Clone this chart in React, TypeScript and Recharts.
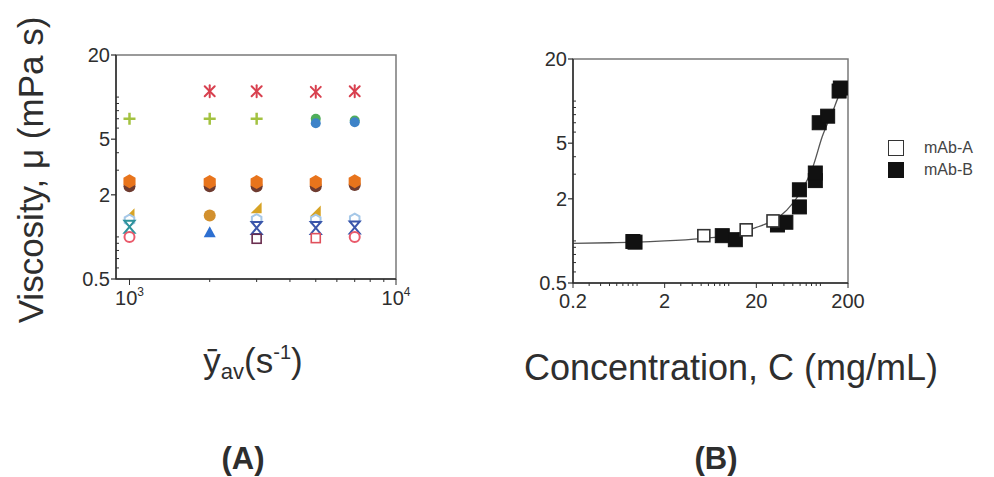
import React from "react";
import { ComposedChart, Scatter, Line, XAxis, YAxis, ReferenceArea } from "recharts";

const FONT = '"Liberation Sans", Arial, Helvetica, sans-serif';
const INK = "#2e2e2e";
const FRAME = "#7a7a7a";

// ── Panel A: viscosity vs average shear rate ──
const rateTicks = [1000, 2000, 3000, 4000, 5000, 6000, 7000, 8000, 9000, 10000];
const rateMajor: Record<number, string> = { 1000: "3", 10000: "4" };
const muTicks = [0.5, 0.6, 0.7, 0.8, 0.9, 1, 2, 3, 4, 5, 6, 7, 8, 9, 10, 20];
const muMajor = [0.5, 2, 5, 20];

const starRate = [2000, 3000, 5000, 7000];
const starMu = [11.0, 11.0, 10.9, 11.0];
const plusRate = [1000, 2000, 3000];
const plusMu = [7.0, 7.0, 7.0];
const greenRate = [5000, 7000];
const greenMu = [7.0, 6.8];
const blueRate = [5000, 7000];
const blueMu = [6.5, 6.6];
const brownRate = [1000, 2000, 3000, 5000, 7000];
const brownMu = [2.3, 2.3, 2.3, 2.3, 2.35];
const orangeRate = [1000, 2000, 3000, 5000, 7000];
const orangeMu = [2.5, 2.47, 2.47, 2.47, 2.5];
const goldTriRate = [1000, 3000, 5000];
const goldTriMu = [1.45, 1.6, 1.52];
const goldDotRate = [2000];
const goldDotMu = [1.42];
const paleHexRate = [1000, 3000, 5000, 7000];
const paleHexMu = [1.32, 1.33, 1.32, 1.34];
const tealTieRate = [1000];
const tealTieMu = [1.18];
const navyTieRate = [3000, 5000, 7000];
const navyTieMu = [1.16, 1.16, 1.17];
const blueTriRate = [2000];
const blueTriMu = [1.08];
const redRingRate = [1000, 7000];
const redRingMu = [1.0, 1.0];
const redBoxRate = [5000];
const redBoxMu = [0.98];
const plumBoxRate = [3000];
const plumBoxMu = [0.97];

// ── Panel B: viscosity vs concentration ──
const concTicks = [0.2, 0.3, 0.4, 0.5, 0.6, 0.7, 0.8, 0.9, 1, 2, 3, 4, 5, 6, 7, 8, 9, 10, 20, 30, 40, 50, 60, 70, 80, 90, 100, 200];
const concMajor = [0.2, 2, 20, 200];

const mabAConc = [5.35, 15.5, 30.4];
const mabAMu = [1.09, 1.2, 1.39];
const mabBConc = [0.9, 0.95, 8.5, 11.8, 34, 42, 59, 59, 88, 88, 97, 120, 160, 165];
const mabBMu = [0.99, 0.98, 1.09, 1.02, 1.3, 1.36, 1.75, 2.32, 2.7, 3.06, 7.0, 7.8, 11.8, 12.4];
const fitConc = [0.2, 0.5, 1, 2, 5, 10, 15, 20, 30, 43, 60, 83, 105, 138, 155, 170];
const fitMu = [0.96, 0.97, 0.98, 1.0, 1.04, 1.09, 1.17, 1.25, 1.39, 1.66, 2.2, 3.4, 5.6, 8.6, 10.5, 11.8];

const pts = (xs: number[], ys: number[]) => xs.map((x, i) => ({ x, y: ys[i] }));

// ── marker shapes ──
type P = { cx?: number; cy?: number };
const star = (c: string) => ({ cx = 0, cy = 0 }: P) => (
  <g stroke={c} strokeWidth={2} strokeLinecap="round">
    <line x1={cx - 5} y1={cy - 5} x2={cx + 5} y2={cy + 5} />
    <line x1={cx - 5} y1={cy + 5} x2={cx + 5} y2={cy - 5} />
    <line x1={cx} y1={cy - 6} x2={cx} y2={cy + 6} />
  </g>
);
const plus = (c: string) => ({ cx = 0, cy = 0 }: P) => (
  <g stroke={c} strokeWidth={2.5}>
    <line x1={cx - 6} y1={cy} x2={cx + 6} y2={cy} />
    <line x1={cx} y1={cy - 6} x2={cx} y2={cy + 6} />
  </g>
);
const dot = (c: string, r = 5) => ({ cx = 0, cy = 0 }: P) => <circle cx={cx} cy={cy} r={r} fill={c} />;
const ring = (c: string) => ({ cx = 0, cy = 0 }: P) => (
  <circle cx={cx} cy={cy} r={5} fill="#fff" stroke={c} strokeWidth={2} />
);
const hexPts = (cx: number, cy: number, r: number) =>
  [0, 1, 2, 3, 4, 5].map((k) => `${cx + r * Math.sin((k * Math.PI) / 3)},${cy - r * Math.cos((k * Math.PI) / 3)}`).join(" ");
const hex = (c: string) => ({ cx = 0, cy = 0 }: P) => <polygon points={hexPts(cx, cy, 7)} fill={c} />;
const hexOpen = (c: string) => ({ cx = 0, cy = 0 }: P) => (
  <polygon points={hexPts(cx, cy, 5.5)} fill="#fff" stroke={c} strokeWidth={2} />
);
const wedge = (c: string) => ({ cx = 0, cy = 0 }: P) => (
  <polygon points={`${cx - 6},${cy + 5} ${cx + 5},${cy + 5} ${cx + 5},${cy - 6}`} fill={c} />
);
const triUp = (c: string) => ({ cx = 0, cy = 0 }: P) => (
  <polygon points={`${cx},${cy - 6} ${cx + 6},${cy + 5} ${cx - 6},${cy + 5}`} fill={c} />
);
const bowtie = (c: string) => ({ cx = 0, cy = 0 }: P) => (
  <polygon
    points={`${cx - 5},${cy - 6} ${cx + 5},${cy - 6} ${cx - 5},${cy + 6} ${cx + 5},${cy + 6}`}
    fill="#fff"
    stroke={c}
    strokeWidth={2}
  />
);
const box = (c: string, s = 10, fill = "#fff") => ({ cx = 0, cy = 0 }: P) => (
  <rect x={cx - s / 2} y={cy - s / 2} width={s} height={s} fill={fill} stroke={c} strokeWidth={fill === "#fff" ? 1.6 : 1} />
);

// ── ticks ──
function RateTick(p: any) {
  const v = p.payload.value;
  const exp = rateMajor[v];
  return (
    <g>
      <line x1={p.x} y1={p.y} x2={p.x} y2={p.y + (exp ? 6 : 3)} stroke={INK} strokeWidth={1} />
      {exp && (
        <text x={p.x} y={p.y + 26} textAnchor="middle" fontSize={20} fill={INK} fontFamily={FONT}>
          10<tspan dy={-9} fontSize={12}>{exp}</tspan>
        </text>
      )}
    </g>
  );
}
function MuTick(p: any) {
  const v = p.payload.value;
  const major = muMajor.includes(v);
  return (
    <g>
      {major ? (
        <line x1={p.x - 5} y1={p.y} x2={p.x} y2={p.y} stroke={INK} strokeWidth={1.2} />
      ) : (
        <line x1={p.x} y1={p.y} x2={p.x + 3} y2={p.y} stroke={INK} strokeWidth={1} />
      )}
      {major && (
        <text x={p.x - 6} y={p.y} textAnchor="end" dominantBaseline="central" fontSize={20} fill={INK} fontFamily={FONT}>
          {v}
        </text>
      )}
    </g>
  );
}
function ConcTick(p: any) {
  const v = p.payload.value;
  const major = concMajor.includes(v);
  return (
    <g>
      <line x1={p.x} y1={p.y} x2={p.x} y2={p.y + (major ? 5 : 3)} stroke={INK} strokeWidth={1} />
      {major && (
        <text x={p.x} y={p.y + 25} textAnchor="middle" fontSize={20} fill={INK} fontFamily={FONT}>
          {v}
        </text>
      )}
    </g>
  );
}

const RED = "#d8404f";
const axisLine = { stroke: INK, strokeWidth: 1.5 };

function PanelA() {
  return (
    <ComposedChart width={430} height={340} margin={{ top: 55, right: 34, bottom: 21, left: 56 }}>
      <XAxis
        dataKey="x"
        type="number"
        scale="log"
        domain={[890, 10000]}
        allowDataOverflow
        ticks={rateTicks}
        interval={0}
        height={40}
        tickSize={0}
        tickMargin={0}
        tickLine={false}
        axisLine={axisLine}
        tick={(p: any) => <RateTick {...p} />}
      />
      <YAxis
        dataKey="y"
        type="number"
        scale="log"
        domain={[0.5, 20]}
        allowDataOverflow
        ticks={muTicks}
        interval={0}
        width={60}
        tickSize={0}
        tickMargin={0}
        tickLine={false}
        axisLine={axisLine}
        tick={(p: any) => <MuTick {...p} />}
      />
      <ReferenceArea x1={890} x2={10000} y1={0.5} y2={20} fill="none" stroke={FRAME} strokeWidth={1.5} />
      <Scatter data={pts(starRate, starMu)} shape={star(RED)} isAnimationActive={false} />
      <Scatter data={pts(plusRate, plusMu)} shape={plus("#a3c241")} isAnimationActive={false} />
      <Scatter data={pts(greenRate, greenMu)} shape={dot("#4fae5a")} isAnimationActive={false} />
      <Scatter data={pts(blueRate, blueMu)} shape={dot("#3d83c8")} isAnimationActive={false} />
      <Scatter data={pts(brownRate, brownMu)} shape={dot("#6e3b30", 6)} isAnimationActive={false} />
      <Scatter data={pts(orangeRate, orangeMu)} shape={hex("#e8741c")} isAnimationActive={false} />
      <Scatter data={pts(goldTriRate, goldTriMu)} shape={wedge("#d7a325")} isAnimationActive={false} />
      <Scatter data={pts(goldDotRate, goldDotMu)} shape={dot("#d2902e", 6)} isAnimationActive={false} />
      <Scatter data={pts(paleHexRate, paleHexMu)} shape={hexOpen("#a6c8e8")} isAnimationActive={false} />
      <Scatter data={pts(tealTieRate, tealTieMu)} shape={bowtie("#2f939c")} isAnimationActive={false} />
      <Scatter data={pts(navyTieRate, navyTieMu)} shape={bowtie("#3b56aa")} isAnimationActive={false} />
      <Scatter data={pts(blueTriRate, blueTriMu)} shape={triUp("#2d6fd1")} isAnimationActive={false} />
      <Scatter data={pts(redRingRate, redRingMu)} shape={ring("#ea5a6b")} isAnimationActive={false} />
      <Scatter data={pts(redBoxRate, redBoxMu)} shape={box("#e0505c", 9)} isAnimationActive={false} />
      <Scatter data={pts(plumBoxRate, plumBoxMu)} shape={box("#6a2e4f", 9)} isAnimationActive={false} />
    </ComposedChart>
  );
}

function PanelB() {
  return (
    <ComposedChart width={500} height={340} margin={{ top: 59, right: 132, bottom: 17, left: 33 }}>
      <XAxis
        dataKey="x"
        type="number"
        scale="log"
        domain={[0.2, 200]}
        allowDataOverflow
        ticks={concTicks}
        interval={0}
        height={40}
        tickSize={0}
        tickMargin={0}
        tickLine={false}
        axisLine={axisLine}
        tick={(p: any) => <ConcTick {...p} />}
      />
      <YAxis
        dataKey="y"
        type="number"
        scale="log"
        domain={[0.5, 20]}
        allowDataOverflow
        ticks={muTicks}
        interval={0}
        width={60}
        tickSize={0}
        tickMargin={0}
        tickLine={false}
        axisLine={axisLine}
        tick={(p: any) => <MuTick {...p} />}
      />
      <ReferenceArea x1={0.2} x2={200} y1={0.5} y2={20} fill="none" stroke={FRAME} strokeWidth={1.5} />
      <Line
        data={pts(fitConc, fitMu)}
        dataKey="y"
        type="monotone"
        stroke="#555"
        strokeWidth={1.3}
        dot={false}
        isAnimationActive={false}
      />
      <Scatter data={pts(mabBConc, mabBMu)} shape={box("#111", 14, "#111")} isAnimationActive={false} />
      <Scatter data={pts(mabAConc, mabAMu)} shape={box("#333", 12)} isAnimationActive={false} />
    </ComposedChart>
  );
}

const abs = (left: number, top: number, extra: React.CSSProperties = {}): React.CSSProperties => ({
  position: "absolute",
  left,
  top,
  transform: "translate(-50%, -50%)",
  whiteSpace: "nowrap",
  color: INK,
  lineHeight: 1,
  ...extra,
});

export default function App() {
  return (
    <div style={{ position: "absolute", left: 0, top: 0, width: 994, height: 477, background: "#fff", fontFamily: FONT }}>
      <div style={{ position: "absolute", left: 0, top: 0 }}>
        <PanelA />
      </div>
      <div style={{ position: "absolute", left: 480, top: 0 }}>
        <PanelB />
      </div>

      <div style={abs(30, 170, { fontSize: 35, transform: "translate(-50%, -50%) rotate(-90deg)" })}>
        Viscosity, μ (mPa s)
      </div>
      <div style={abs(253, 362, { fontSize: 35 })}>
        ȳ<span style={{ fontSize: 22, verticalAlign: -6 }}>av</span>(s
        <span style={{ fontSize: 20, verticalAlign: 14 }}>-1</span>)
      </div>
      <div style={abs(731, 368, { fontSize: 36 })}>Concentration, C (mg/mL)</div>

      <div style={{ position: "absolute", left: 888, top: 140, width: 16, height: 16, border: "1.5px solid #333", boxSizing: "border-box" }} />
      <div style={{ position: "absolute", left: 888, top: 162, width: 16, height: 16, background: "#111" }} />
      <div style={{ position: "absolute", left: 924, top: 139, fontSize: 16, color: "#444", lineHeight: "18px" }}>mAb-A</div>
      <div style={{ position: "absolute", left: 924, top: 161, fontSize: 16, color: "#444", lineHeight: "18px" }}>mAb-B</div>

      <div style={abs(243, 458, { fontSize: 31, fontWeight: "bold" })}>(A)</div>
      <div style={abs(716, 458, { fontSize: 31, fontWeight: "bold" })}>(B)</div>
    </div>
  );
}
